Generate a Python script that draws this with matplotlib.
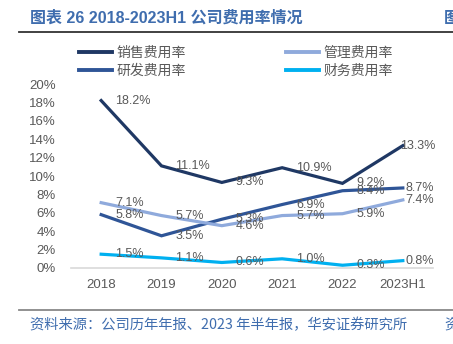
import matplotlib
matplotlib.use("Agg")
import matplotlib.pyplot as plt
from matplotlib.lines import Line2D

plt.rcParams['font.family'] = ['Liberation Sans', 'Noto Sans CJK SC', 'DejaVu Sans']

years = ["2018", "2019", "2020", "2021", "2022", "2023H1"]
sales_rate = [18.2, 11.1, 9.3, 10.9, 9.2, 13.3]
rd_rate = [5.8, 3.5, 5.3, 6.9, 8.4, 8.7]
admin_rate = [7.1, 5.7, 4.6, 5.7, 5.9, 7.4]
fin_rate = [1.5, 1.1, 0.6, 1.0, 0.3, 0.8]
y_ticks = [0, 2, 4, 6, 8, 10, 12, 14, 16, 18, 20]

series = [
    ("销售费用率", sales_rate, "#1F3864"),
    ("研发费用率", rd_rate, "#2F5597"),
    ("管理费用率", admin_rate, "#8FAADC"),
    ("财务费用率", fin_rate, "#00B0F0"),
]

W, H = 453, 344
fig = plt.figure(figsize=(W / 100, H / 100), dpi=100)
ax = fig.add_axes([71 / W, 1 - 268 / H, 362 / W, 184 / H])

x = list(range(len(years)))
for name, vals, color in series:
    ax.plot(x, vals, color=color, lw=2.3, solid_joinstyle='miter', zorder=3)
    for i, v in enumerate(vals):
        dx = 10 if i < len(vals) - 1 else 2
        if name == "销售费用率" and i == len(vals) - 1:
            dx = -2
        ax.annotate(f"{v:.1f}%", (i, v), xytext=(dx, 0), textcoords='offset points',
                    ha='left', va='center', fontsize=9, color='#595959', zorder=4)

ax.set_xlim(-0.5, 5.5)
ax.set_ylim(0, 20)
ax.set_xticks(x)
ax.set_xticklabels(years)
ax.set_yticks(y_ticks)
ax.set_yticklabels([f"{t}%" for t in y_ticks])
ax.tick_params(axis='both', length=0, labelsize=9.5, colors='#595959')
ax.tick_params(axis='y', pad=11)
ax.tick_params(axis='x', pad=8)
for s in ['top', 'right', 'left']:
    ax.spines[s].set_visible(False)
ax.spines['bottom'].set_color('#D9D9D9')
ax.spines['bottom'].set_linewidth(1.2)
ax.set_facecolor('none')

handles = [Line2D([0], [0], color=c, lw=2.8) for _, _, c in series]
labels = [n for n, _, _ in series]
leg = fig.legend(handles, labels, ncol=2, loc='center', bbox_to_anchor=(236 / W, 1 - 62 / H),
                 frameon=False, handlelength=2.4, handletextpad=0.3,
                 columnspacing=7.2, labelspacing=0.3,
                 prop={'family': ['Noto Sans CJK SC'], 'size': 10})
for t in leg.get_texts():
    t.set_color('#595959')

title_color = '#3F6DAE'
fig.text(30 / W, 1 - 18 / H, "图表 26 2018-2023H1 公司费用率情况", fontsize=11.5,
         fontweight='bold', color=title_color, va='center', ha='left',
         family=['Liberation Sans', 'Noto Sans CJK SC'])
fig.text(444 / W, 1 - 18 / H, "图", fontsize=11.5, fontweight='bold', color=title_color,
         va='center', ha='left', family=['Noto Sans CJK SC'])
fig.add_artist(Line2D([19 / W, 1], [1 - 32 / H, 1 - 32 / H], color='#333333', lw=1.3))
fig.add_artist(Line2D([19 / W, 1], [1 - 310 / H, 1 - 310 / H], color='#888888', lw=1.3))
fig.text(30 / W, 1 - 325 / H, "资料来源：公司历年年报、2023 年半年报，华安证券研究所", fontsize=10.3,
         color=title_color, va='center', ha='left', family=['Noto Sans CJK SC', 'Liberation Sans'])
fig.text(444 / W, 1 - 325 / H, "资", fontsize=10.3, color=title_color, va='center', ha='left',
         family=['Noto Sans CJK SC'])

fig.savefig("out.png", dpi=100)
